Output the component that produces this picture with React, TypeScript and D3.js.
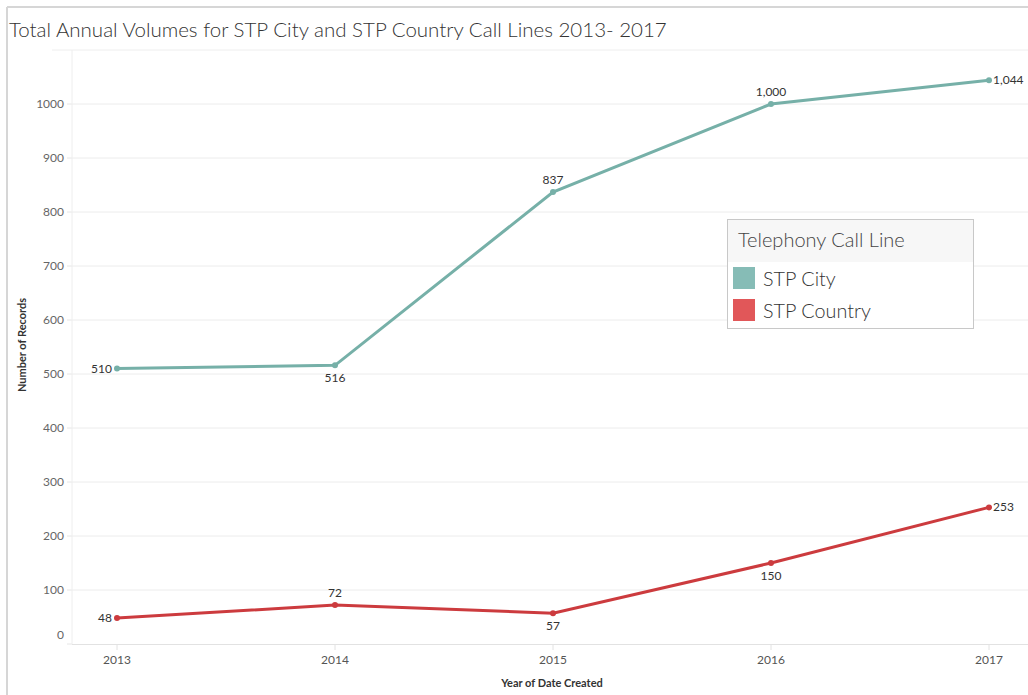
import React from "react";
import * as d3 from "d3";

const years = [2013, 2014, 2015, 2016, 2017];
const cityValues = [510, 516, 837, 1000, 1044];
const countryValues = [48, 72, 57, 150, 253];
const yTicks = [0, 100, 200, 300, 400, 500, 600, 700, 800, 900, 1000];
// label positions: l=left, r=right, a=above, b=below
const cityLabelPos = ["l", "b", "a", "a", "r"];
const countryLabelPos = ["l", "a", "b", "b", "r"];
const seriesNames = ["STP City", "STP Country"];

const W = 1028;
const H = 695;
const TEAL = "#76b0a8";
const TEAL_SW = "#86bcb6";
const RED = "#cc3b3e";
const RED_SW = "#e15759";
const FONT = "Lato, 'Open Sans', sans-serif";

export default function App() {
  const x = d3.scalePoint<number>().domain(years).range([117, 989]);
  const y = d3.scaleLinear().domain([0, 1000]).range([644, 104]);
  const line = d3
    .line<number>()
    .x((_, i) => x(years[i]) as number)
    .y((d) => y(d));
  const fmt = d3.format(",");

  const series = [
    { name: seriesNames[0], values: cityValues, pos: cityLabelPos, color: TEAL },
    { name: seriesNames[1], values: countryValues, pos: countryLabelPos, color: RED },
  ];

  const labelProps = (p: string, cx: number, cy: number) => {
    if (p === "l") return { x: cx - 5, y: cy + 4, anchor: "end" };
    if (p === "r") return { x: cx + 4, y: cy + 4, anchor: "start" };
    if (p === "a") return { x: cx, y: cy - 8, anchor: "middle" };
    return { x: cx, y: cy + 17, anchor: "middle" };
  };

  return (
    <svg
      width={W}
      height={H}
      style={{ position: "absolute", left: 0, top: 0, background: "#fff" }}
      fontFamily={FONT}
    >
      {/* outer borders */}
      <line x1={7} y1={7} x2={W} y2={7} stroke="#d6d6d6" strokeWidth={2} />
      <line x1={7} y1={7} x2={7} y2={H} stroke="#d6d6d6" strokeWidth={2} />
      <text x={9} y={37} fontSize={20.5} fill="#333" fontWeight={300} fontFamily={FONT}>
        Total Annual Volumes for STP City and STP Country Call Lines 2013- 2017
      </text>
      {/* pane top */}
      <line x1={52} y1={50} x2={W} y2={50} stroke="#eeeeee" strokeWidth={1} />
      {/* gridlines */}
      {yTicks.map((t) => (
        <g key={t}>
          {t > 0 && (
            <line x1={72} x2={W} y1={y(t)} y2={y(t)} stroke="#ececec" strokeWidth={1} />
          )}
          <line x1={67} x2={72} y1={y(t)} y2={y(t)} stroke="#e6e6e6" />
          <text
            x={64}
            y={t === 0 ? y(t) - 5 : y(t) + 4}
            textAnchor="end"
            fontSize={12}
            fill="#666"
          >
            {t}
          </text>
        </g>
      ))}
      <line x1={72} x2={72} y1={50} y2={644} stroke="#eeeeee" />
      <line x1={72} x2={W} y1={644.5} y2={644.5} stroke="#e2e2e2" />
      {years.map((yr) => (
        <g key={yr}>
          <line x1={x(yr)} x2={x(yr)} y1={645} y2={650} stroke="#e2e2e2" />
          <text x={x(yr)} y={664} textAnchor="middle" fontSize={12} fill="#555">
            {yr}
          </text>
        </g>
      ))}
      <text x={552} y={687} textAnchor="middle" fontSize={11} fontWeight="bold" fill="#333">
        Year of Date Created
      </text>
      <text
        transform={`translate(26,345) rotate(-90)`}
        textAnchor="middle"
        fontSize={11}
        fontWeight="bold"
        fill="#333"
      >
        Number of Records
      </text>
      {/* lines */}
      {series.map((s) => (
        <g key={s.name}>
          <path d={line(s.values) || ""} fill="none" stroke={s.color} strokeWidth={3} />
          {s.values.map((v, i) => {
            const cx = x(years[i]) as number;
            const cy = y(v);
            const lp = labelProps(s.pos[i], cx, cy);
            return (
              <g key={i}>
                <circle cx={cx} cy={cy} r={3} fill={s.color} />
                <text
                  x={lp.x}
                  y={lp.y}
                  textAnchor={lp.anchor as any}
                  fontSize={12}
                  fill="#333"
                >
                  {fmt(v)}
                </text>
              </g>
            );
          })}
        </g>
      ))}
      {/* legend */}
      <g>
        <rect x={727.5} y={219.5} width={246} height={109} fill="#fff" stroke="#c8c8c8" />
        <rect x={728} y={220} width={245} height={42} fill="#f7f7f7" />
        <text x={738} y={247} fontSize={20} fill="#444" fontWeight={300}>
          Telephony Call Line
        </text>
        <rect x={733} y={267} width={22} height={22} fill={TEAL_SW} />
        <text x={763} y={286} fontSize={19.8} fill="#333" fontWeight={300}>
          {seriesNames[0]}
        </text>
        <rect x={733} y={299} width={22} height={22} fill={RED_SW} />
        <text x={763} y={318} fontSize={19.8} fill="#333" fontWeight={300}>
          {seriesNames[1]}
        </text>
      </g>
    </svg>
  );
}
